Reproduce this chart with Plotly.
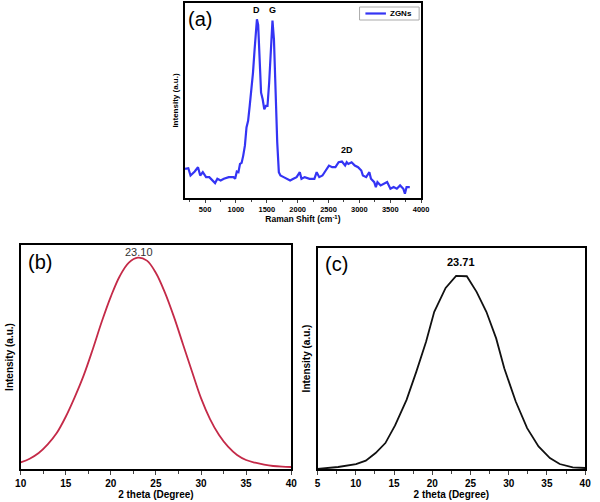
import plotly.graph_objects as go

# ---------------- data ----------------
raman_shift = [175, 228, 264, 332, 385, 421, 463, 516, 568, 621, 662, 699, 752, 804, 883, 961, 987,
               1014, 1040, 1066, 1092, 1118, 1145, 1171, 1197, 1223, 1249, 1276, 1302, 1340, 1360,
               1385, 1407, 1433, 1459, 1485, 1511, 1538, 1564, 1592, 1616, 1642, 1669, 1695, 1721,
               1773, 1826, 1878, 1931, 1983, 2035, 2062, 2114, 2193, 2271, 2308, 2350, 2402, 2455,
               2507, 2559, 2612, 2664, 2717, 2769, 2795, 2821, 2874, 2926, 2979, 3031, 3057, 3110,
               3162, 3188, 3241, 3267, 3293, 3345, 3398, 3450, 3503, 3555, 3607, 3660, 3712, 3738,
               3765, 3817]
raman_int = [88, 90, 68, 80, 93, 68, 78, 63, 63, 53, 45, 58, 53, 58, 63, 63, 58,
             80, 78, 103, 106, 128, 158, 213, 233, 278, 318, 378, 448, 540, 523,
             428, 318, 298, 268, 278, 278, 348, 448, 536, 478, 298, 168, 78, 68,
             63, 58, 53, 58, 63, 78, 58, 63, 58, 58, 78, 63, 68, 83,
             98, 93, 93, 108, 110, 98, 108, 103, 108, 98, 93, 83, 68, 63,
             78, 58, 48, 33, 48, 38, 43, 48, 28, 33, 28, 38, 28, 13,
             33, 33]

theta_b = list(range(10, 41))
int_b = [20, 31, 48, 74, 108, 157, 216, 282, 360, 443, 518, 580, 620, 635, 626, 589,
         530, 457, 375, 293, 213, 150, 102, 67, 42, 27, 19, 13, 9, 7, 6]

theta_c = [5.0, 7.69, 10.03, 11.31, 12.59, 13.87, 15.14, 16.64, 17.92, 19.19, 20.26, 21.75,
           23.12, 24.52, 25.80, 27.08, 28.36, 29.42, 30.92, 32.41, 33.90, 35.39, 36.67, 38.38, 40.0]
int_c = [0, 6, 15, 25, 48, 78, 131, 208, 293, 383, 473, 545,
         581, 580, 533, 473, 393, 303, 203, 123, 68, 33, 15, 5, 3]

ticks_a = [500, 1000, 1500, 2000, 2500, 3000, 3500, 4000]
ticks_b = [10, 15, 20, 25, 30, 35, 40]
ticks_c = [5, 10, 15, 20, 25, 30, 35, 40]
legend_label = "ZGNs"

FONT = "Arial, Liberation Sans, sans-serif"
W, H = 600, 502
BLUE = "#3434f4"


def xd(a, b):
    return [a / W, b / W]


def yd(top, bot):
    return [1 - bot / H, 1 - top / H]


fig = go.Figure()
fig.add_trace(go.Scatter(x=raman_shift, y=raman_int, mode="lines", name=legend_label,
                         line=dict(color=BLUE, width=2.2), xaxis="x", yaxis="y"))
fig.add_trace(go.Scatter(x=theta_b, y=int_b, mode="lines",
                         line=dict(color="#c42a48", width=1.8, shape="spline"), xaxis="x2", yaxis="y2"))
fig.add_trace(go.Scatter(x=theta_c, y=int_c, mode="lines",
                         line=dict(color="#111111", width=1.8), xaxis="x3", yaxis="y3"))

axcommon = dict(showline=True, linecolor="black", linewidth=1.5, mirror=True,
                showgrid=False, zeroline=False)

fig.update_layout(
    width=W, height=H, margin=dict(l=0, r=0, t=0, b=0),
    paper_bgcolor="white", plot_bgcolor="white",
    font=dict(family=FONT, color="black"),
    showlegend=False,
    xaxis=dict(domain=xd(183, 425), range=[170, 4000], tickvals=ticks_a,
               ticks="outside", ticklen=3, tickwidth=1,
               minor=dict(ticks="outside", ticklen=2, dtick=250),
               tickfont=dict(size=7.5, family=FONT, weight="bold"),
               title=dict(text="Raman Shift (cm<sup>-1</sup>)", standoff=2,
                          font=dict(size=8.5, family=FONT, weight="bold")),
               anchor="y", **axcommon),
    yaxis=dict(domain=yd(3, 198), range=[0, 589], showticklabels=False, ticks="",
               title=dict(text="Intensity (a.u.)", standoff=3,
                          font=dict(size=8, family=FONT, weight="bold")),
               anchor="x", **axcommon),
    xaxis2=dict(domain=xd(15, 292), range=[10, 40], tickvals=ticks_b,
                ticks="outside", ticklen=4, tickwidth=1.2,
                minor=dict(ticks="outside", ticklen=3, dtick=2.5),
                tickfont=dict(size=10, family=FONT, weight="bold"),
                title=dict(text="2 theta (Degree)", standoff=2,
                           font=dict(size=10, family=FONT, weight="bold")),
                anchor="y2", **axcommon),
    yaxis2=dict(domain=yd(245, 469), range=[0, 673], showticklabels=False, ticks="",
                title=dict(text="Intensity (a.u.)", standoff=3,
                           font=dict(size=10, family=FONT, weight="bold")),
                anchor="x2", **axcommon),
    xaxis3=dict(domain=xd(319, 593), range=[5, 40], tickvals=ticks_c,
                ticks="outside", ticklen=4, tickwidth=1.2,
                minor=dict(ticks="outside", ticklen=3, dtick=2.5),
                tickfont=dict(size=10, family=FONT, weight="bold"),
                title=dict(text="2 theta (Degree)", standoff=2,
                           font=dict(size=10, family=FONT, weight="bold")),
                anchor="y3", **axcommon),
    yaxis3=dict(domain=yd(248, 469), range=[0, 665], showticklabels=False, ticks="",
                title=dict(text="Intensity (a.u.)", standoff=3,
                           font=dict(size=10, family=FONT, weight="bold")),
                anchor="x3", **axcommon),
)

# hand-drawn legend box for panel (a)
fig.add_shape(type="rect", xref="paper", yref="paper",
              x0=362 / W, x1=423 / W, y0=1 - 20 / H, y1=1 - 7 / H,
              line=dict(color="#aaaaaa", width=1), fillcolor="white", layer="above")
fig.add_shape(type="line", xref="paper", yref="paper",
              x0=368 / W, x1=389 / W, y0=1 - 13.5 / H, y1=1 - 13.5 / H,
              line=dict(color=BLUE, width=2.2), layer="above")

ann = [
    dict(x=391 / W, y=1 - 13.5 / H, xref="paper", yref="paper", text=legend_label,
         xanchor="left", yanchor="middle", font=dict(size=8, weight="bold")),
    dict(x=1340, y=540, xref="x", yref="y", text="D", yanchor="bottom", yshift=2,
         font=dict(size=9, weight="bold")),
    dict(x=1595, y=540, xref="x", yref="y", text="G", yanchor="bottom", yshift=2,
         font=dict(size=9, weight="bold")),
    dict(x=2800, y=118, xref="x", yref="y", text="2D", yanchor="bottom", yshift=2,
         font=dict(size=9, weight="bold")),
    dict(x=0.005, y=0.985, xref="x domain", yref="y domain", text="(a)", xanchor="left",
         yanchor="top", font=dict(size=20)),
    dict(x=23.1, y=635, xref="x2", yref="y2", text="23.10", yanchor="bottom", yshift=-2,
         font=dict(size=11, color="#333")),
    dict(x=0.02, y=0.98, xref="x2 domain", yref="y2 domain", text="(b)", xanchor="left",
         yanchor="top", font=dict(size=20)),
    dict(x=23.8, y=581, xref="x3", yref="y3", text="23.71", yanchor="bottom", yshift=6,
         font=dict(size=11, weight="bold")),
    dict(x=0.02, y=0.985, xref="x3 domain", yref="y3 domain", text="(c)", xanchor="left",
         yanchor="top", font=dict(size=20)),
]
for a in ann:
    a.setdefault("showarrow", False)
    a["font"].setdefault("family", FONT)
    a["font"].setdefault("color", "black")
fig.update_layout(annotations=ann)

fig.write_html("out.html", config={"displayModeBar": False},
               post_script="document.body.style.margin='0';document.body.style.overflow='hidden';")
